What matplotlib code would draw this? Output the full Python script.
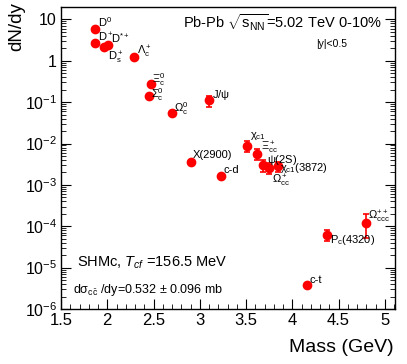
import matplotlib
matplotlib.use("Agg")
import matplotlib.pyplot as plt
from matplotlib.ticker import MultipleLocator, LogLocator, FuncFormatter, NullFormatter

plt.rcParams['font.family'] = ['Liberation Sans', 'DejaVu Sans']
plt.rcParams['mathtext.fontset'] = 'custom'
plt.rcParams['mathtext.rm'] = 'Liberation Sans'
plt.rcParams['mathtext.it'] = 'Liberation Sans:italic'
plt.rcParams['mathtext.bf'] = 'Liberation Sans:bold'

# SHMc predictions, Pb-Pb 5.02 TeV 0-10%
labels = [r'D$^0$', r'D$^+$', r'D$^{*+}$', r'D$_\mathrm{s}^+$', r'$\mathrm{\Lambda_c^+}$',
          r'$\mathrm{\Xi_c^0}$', r'$\mathrm{\Sigma_c^0}$', r'$\mathrm{\Omega_c^0}$', r'J/$\mathrm{\psi}$',
          'X(2900)', 'c-d', r'$\mathrm{\chi_{c1}}$', r'$\mathrm{\Xi_{cc}^+}$', r'$\mathrm{\psi}$(2S)',
          r'$\mathrm{\Omega_{cc}^+}$', r'$\mathrm{\chi_{c1}}$(3872)', r'$\mathrm{\Omega_{ccc}^{++}}$',
          r'P$_\mathrm{c}$(4320)', 'c-t']
mass = [1.865, 1.870, 2.010, 1.968, 2.286,
        2.471, 2.454, 2.695, 3.097,
        2.900, 3.23, 3.511, 3.621, 3.686,
        3.746, 3.85, 4.80,
        4.38, 4.16]
dndy = [6.0, 2.7, 2.4, 2.1, 1.27,
        0.27, 0.145, 0.056, 0.11,
        0.0036, 0.0016, 0.0089, 0.0057, 0.0031,
        0.0026, 0.0028, 1.23e-4,
        6.3e-5, 3.8e-6]
err = [0, 0, 0, 0, 0,
       0, 0, 0, 0.035,
       0, 0, 0.0028, 0.0018, 0.001,
       0.0008, 0.0007, 7e-5,
       1.8e-5, 0]

# label offsets in pixels (dx, dy)
offsets = [(3, 7), (3, 6), (3, 7), (4, -10), (3, 5),
           (1, 5), (2, 1), (2, 4), (3, 5),
           (2, 7), (2, 6), (3, 10), (4, 6), (4, 5),
           (3, -13), (2, -2), (2, 6),
           (3, -5), (2, 5)]

fig = plt.figure(figsize=(4.07, 3.64), dpi=100)
ax = fig.add_axes([61/407, 1 - 309/364, (395 - 61)/407, (309 - 7)/364])

ax.errorbar(mass, dndy, yerr=err, fmt='o', color='#ff0000', ms=6, mec='#ff0000',
            elinewidth=1.2, capsize=2, capthick=1.2)

for lab, x, y, off in zip(labels, mass, dndy, offsets):
    ax.annotate(lab, (x, y), xytext=off, textcoords='offset pixels',
                ha='left', va='center', fontsize=8)

ax.set_yscale('log')
ax.set_xlim(1.5, 5.11)
ax.set_ylim(1e-6, 20)

ax.xaxis.set_major_locator(MultipleLocator(0.5))
ax.xaxis.set_minor_locator(MultipleLocator(0.1))
ax.xaxis.set_major_formatter(FuncFormatter(lambda v, p: '%g' % v))
ax.yaxis.set_major_locator(LogLocator(base=10, numticks=20))
ax.yaxis.set_minor_locator(LogLocator(base=10, subs=range(2, 10), numticks=20))
ax.yaxis.set_minor_formatter(NullFormatter())


def yfmt(v, p):
    if abs(v - 10) < 1e-9:
        return '10'
    if abs(v - 1) < 1e-9:
        return '1'
    import math
    return r'$\mathrm{10^{%d}}$' % round(math.log10(v))


ax.yaxis.set_major_formatter(FuncFormatter(yfmt))
ax.tick_params(which='both', direction='in', right=True, top=False)
ax.tick_params(which='major', length=7, labelsize=12, pad=3)
ax.tick_params(which='minor', length=3.5)
ax.tick_params(axis='y', which='major', labelsize=11.5)
for s in ax.spines.values():
    s.set_linewidth(1)

fig.text(17/407, 1 - 2/364, 'dN/dy', rotation=90, ha='center', va='top', fontsize=13.5)
fig.text(394/407, 1 - 347/364, 'Mass (GeV)', ha='right', va='center', fontsize=14)
fig.text(183/407, 1 - 23/364, r'Pb-Pb $\sqrt{\mathrm{s_{NN}}}$=5.02 TeV 0-10%',
         ha='left', va='center', fontsize=10.5)
fig.text(332/407, 1 - 44/364, '|y|<0.5', ha='center', va='center', fontsize=7.5)
fig.text(77/407, 1 - 263/364, r'SHMc, $T_{cf}$ =156.5 MeV', ha='left', va='center', fontsize=10.5)
fig.text(73/407, 1 - 290/364, r'd$\mathrm{\sigma_{c\bar{c}}}$ /dy=0.532 $\pm$ 0.096 mb',
         ha='left', va='center', fontsize=9)

fig.savefig('out.png', dpi=100)
